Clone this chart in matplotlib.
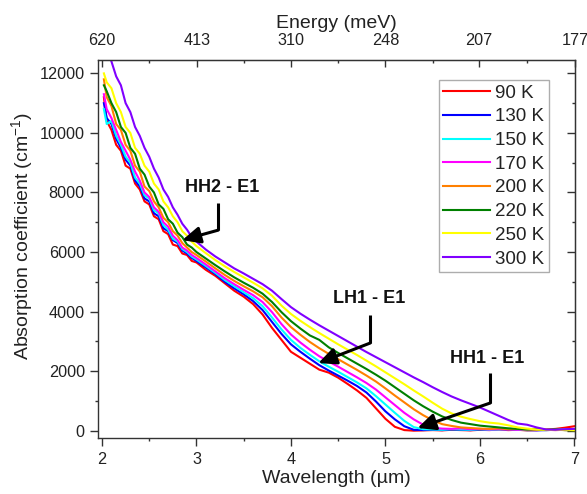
import matplotlib
matplotlib.use("Agg")
import matplotlib.pyplot as plt
from matplotlib.ticker import MultipleLocator, FixedLocator

plt.rcParams['font.family'] = ['Liberation Sans', 'DejaVu Sans']
plt.rcParams['mathtext.fontset'] = 'custom'
plt.rcParams['mathtext.rm'] = 'Liberation Sans'
plt.rcParams['mathtext.it'] = 'Liberation Sans:italic'

# wavelength grid (um)
wl = [2.02, 2.05, 2.10, 2.15, 2.20, 2.25, 2.30, 2.35, 2.40, 2.45, 2.50,
      2.55, 2.60, 2.65, 2.70, 2.75, 2.80, 2.85, 2.90, 2.95, 3.00,
      3.1, 3.2, 3.3, 3.4, 3.5, 3.6, 3.7, 3.8, 3.9, 4.0,
      4.1, 4.2, 4.3, 4.4, 4.5, 4.6, 4.7, 4.8, 4.9, 5.0,
      5.1, 5.2, 5.3, 5.4, 5.5, 5.6, 5.7, 5.8, 5.9, 6.0,
      6.1, 6.2, 6.3, 6.4, 6.5, 6.6, 6.7, 6.8, 6.9, 7.0]

# absorption coefficient (cm^-1) per temperature
a_90K = [11200, 10400, 10100, 9600, 9400, 8900, 8800, 8300, 8100, 7700, 7600,
         7200, 7100, 6700, 6600, 6250, 6200, 5950, 5900, 5700, 5650,
         5400, 5200, 4950, 4700, 4500, 4250, 3900, 3450, 3050, 2650,
         2450, 2250, 2050, 1950, 1780, 1570, 1350, 1100, 750, 400,
         130, 20, 0, 10, 20, 10, 30, 20, 10, 30,
         20, 40, 20, 30, 10, 20, 40, 60, 100, 150]
a_130K = [11000, 10500, 10300, 9800, 9500, 9100, 8900, 8400, 8200, 7800, 7700,
          7300, 7200, 6800, 6700, 6400, 6300, 6050, 5950, 5800, 5700,
          5480, 5260, 5000, 4780, 4580, 4350, 4050, 3650, 3250, 2900,
          2650, 2420, 2200, 2020, 1850, 1680, 1500, 1280, 980, 650,
          380, 150, 30, 20, 30, 20, 40, 30, 20, 40,
          30, 50, 40, 30, 20, 10, 20, 30, 40, 50]
a_150K = [10800, 10300, 10400, 9900, 9600, 9200, 9000, 8500, 8300, 7900, 7800,
          7400, 7300, 6900, 6750, 6450, 6350, 6100, 6000, 5850, 5750,
          5530, 5300, 5060, 4850, 4650, 4450, 4180, 3800, 3400, 3050,
          2780, 2550, 2330, 2150, 1980, 1800, 1620, 1420, 1160, 880,
          600, 330, 120, 50, 40, 30, 50, 40, 30, 50,
          30, 40, 50, 30, 20, 30, 20, 30, 40, 30]
a_170K = [11300, 10800, 10500, 10100, 9700, 9400, 9100, 8700, 8400, 8000, 7850,
          7500, 7350, 7000, 6850, 6550, 6400, 6150, 6050, 5900, 5800,
          5580, 5350, 5120, 4920, 4730, 4550, 4320, 3980, 3580, 3230,
          2960, 2720, 2500, 2320, 2150, 1970, 1790, 1600, 1380, 1120,
          860, 600, 380, 200, 100, 70, 60, 80, 50, 60,
          40, 50, 40, 30, 40, 20, 30, 20, 30, 20]
a_200K = [11800, 11200, 10900, 10300, 10100, 9600, 9400, 8900, 8700, 8200, 8050,
          7700, 7500, 7150, 7000, 6700, 6550, 6300, 6150, 6000, 5900,
          5680, 5450, 5230, 5030, 4850, 4680, 4480, 4180, 3800, 3480,
          3220, 2980, 2770, 2580, 2400, 2220, 2040, 1850, 1650, 1420,
          1180, 950, 720, 520, 350, 220, 160, 110, 90, 70,
          60, 80, 50, 60, 40, 30, 20, 30, 20, 10]
a_220K = [11600, 11400, 11000, 10700, 10200, 10000, 9500, 9300, 8800, 8600, 8200,
          8000, 7600, 7450, 7100, 6950, 6650, 6500, 6250, 6150, 6000,
          5780, 5560, 5350, 5150, 4970, 4800, 4600, 4320, 3980, 3680,
          3430, 3200, 3050, 2800, 2610, 2430, 2250, 2070, 1880, 1680,
          1460, 1240, 1020, 820, 640, 480, 360, 270, 220, 170,
          140, 110, 80, 60, 40, 50, 30, 40, 20, 10]
a_250K = [12000, 11700, 11500, 11000, 10700, 10200, 10000, 9500, 9300, 8900, 8700,
          8300, 8100, 7700, 7500, 7200, 7000, 6700, 6550, 6350, 6200,
          5960, 5730, 5520, 5330, 5150, 4970, 4780, 4530, 4200, 3920,
          3690, 3480, 3280, 3090, 2900, 2720, 2540, 2350, 2160, 1960,
          1760, 1560, 1350, 1150, 940, 740, 580, 470, 390, 320,
          270, 240, 180, 110, 70, 40, 30, 20, 30, 20]
a_300K = [13000, 12800, 12400, 11900, 11600, 11000, 10700, 10200, 9900, 9500, 9200,
          8800, 8500, 8100, 7850, 7500, 7250, 6950, 6750, 6500, 6350,
          6080, 5850, 5650, 5450, 5280, 5100, 4920, 4700, 4420, 4150,
          3930, 3730, 3540, 3360, 3180, 3000, 2820, 2640, 2470, 2300,
          2130, 1960, 1790, 1630, 1460, 1300, 1150, 1020, 900, 780,
          640, 500, 360, 240, 200, 110, 40, 30, 50, 60]

series = [a_90K, a_130K, a_150K, a_170K, a_200K, a_220K, a_250K, a_300K]
labels = ['90 K', '130 K', '150 K', '170 K', '200 K', '220 K', '250 K', '300 K']
colors = ['#ff0000', '#0000ff', '#00ffff', '#ff00ff', '#ff8000', '#008000',
          '#ffff00', '#8000ff']

# top axis: photon energy (meV)
energy_ticks = [620, 413, 310, 248, 207, 177]

# transition labels: text position, vertical leader top, elbow, arrow tip
notes = ['HH2 - E1', 'LH1 - E1', 'HH1 - E1']
note_xy = [(3.27, 8180), (4.83, 4450), (6.08, 2440)]
lead_top = [(3.23, 7640), (4.84, 3880), (6.11, 1940)]
lead_elbow = [(3.23, 6735), (4.84, 2945), (6.11, 930)]
lead_tip = [(2.85, 6400), (4.29, 2270), (5.34, 90)]

txt = '#222222'
fig = plt.figure(figsize=(5.87, 4.94), dpi=100)
ax = fig.add_axes([0.167, 0.114, 0.8126, 0.764])

for y, lab, c in zip(series, labels, colors):
    ax.plot(wl, y, color=c, lw=1.5, label=lab)

ax.set_xlim(1.958, 7.007)
ax.set_ylim(-235, 12440)
ax.xaxis.set_major_locator(MultipleLocator(1))
ax.xaxis.set_minor_locator(MultipleLocator(0.5))
ax.yaxis.set_major_locator(MultipleLocator(2000))
ax.yaxis.set_minor_locator(MultipleLocator(1000))
ax.tick_params(which='both', direction='out', colors='#333333',
               labelsize=11.7, labelcolor=txt)
ax.tick_params(axis='x', pad=4.5)
ax.tick_params(which='major', length=6, width=1)
ax.tick_params(which='minor', length=2.5, width=1)
for s in ax.spines.values():
    s.set_color('#333333')
    s.set_linewidth(1)

ax.set_xlabel('Wavelength (µm)', fontsize=14, color=txt, labelpad=2)
ax.set_ylabel(r'Absorption coefficient (cm$^{-1}$)', fontsize=14, color=txt)
ax.yaxis.set_label_coords(-0.132, 0.535)

# energy scale on top, E[meV] = 1240 / lambda[um]
top = ax.secondary_xaxis('top', functions=(lambda x: 1240 / x,
                                           lambda e: 1240 / e))
top.set_xticks(energy_ticks)
top.set_xticklabels([str(e) for e in energy_ticks])
top.xaxis.set_minor_locator(FixedLocator([1240 / 2.5, 1240 / 3.5, 1240 / 4.5,
                                          1240 / 5.5, 1240 / 6.5]))
top.tick_params(which='both', direction='in', colors='#333333',
                labelsize=11.7, labelcolor=txt, pad=8.5)
top.tick_params(which='major', length=5, width=1)
top.tick_params(which='minor', length=2.5, width=1)
top.spines['top'].set_color('#333333')
top.set_xlabel('Energy (meV)', fontsize=14, color=txt, labelpad=4)

right = ax.secondary_yaxis('right')
right.yaxis.set_major_locator(MultipleLocator(2000))
right.yaxis.set_minor_locator(MultipleLocator(1000))
right.tick_params(which='both', direction='in', colors='#333333',
                  labelright=False)
right.tick_params(which='major', length=6, width=1)
right.tick_params(which='minor', length=2.5, width=1)
right.spines['right'].set_color('#333333')

leg = ax.legend(loc='upper right', bbox_to_anchor=(0.945, 0.948),
                fontsize=13.5, frameon=True, fancybox=False,
                borderaxespad=0, borderpad=0.25, labelspacing=0.35,
                handlelength=2.5, handletextpad=0.25)
leg.get_frame().set_edgecolor('#999999')
leg.get_frame().set_linewidth(1)
for t in leg.get_texts():
    t.set_color(txt)

for name, xy, p0, p1, p2 in zip(notes, note_xy, lead_top, lead_elbow, lead_tip):
    ax.text(xy[0], xy[1], name, ha='center', va='center', fontsize=13,
            fontweight='bold', color='#111111')
    ax.plot([p0[0], p1[0]], [p0[1], p1[1]], color='k', lw=2.2,
            solid_capstyle='butt')
    ax.annotate('', xy=p2, xytext=p1,
                arrowprops=dict(arrowstyle='-|>,head_length=0.6,head_width=0.28',
                                mutation_scale=18, color='k', lw=2.2,
                                shrinkA=0, shrinkB=0))

fig.savefig('out.png', dpi=100)
